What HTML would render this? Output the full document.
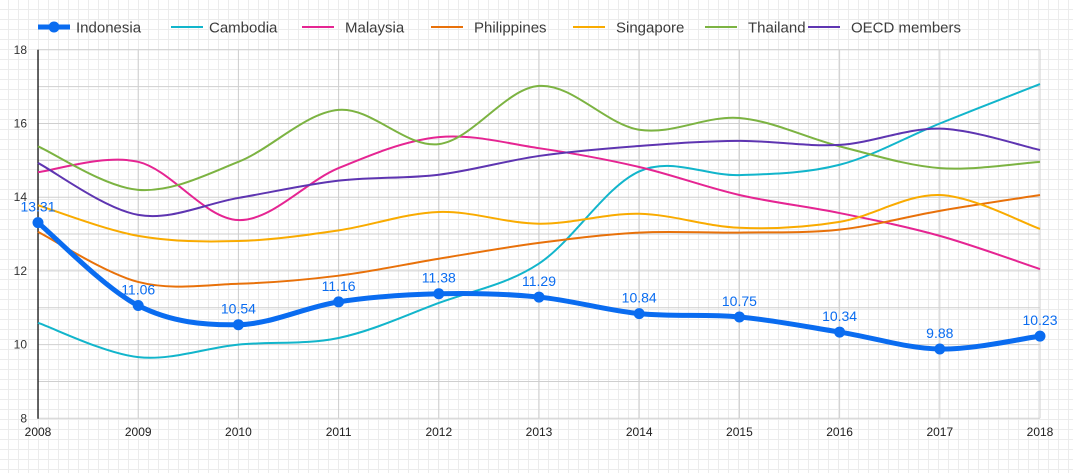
<!DOCTYPE html>
<html><head><meta charset="utf-8"><style>
html,body{margin:0;padding:0;}
body{width:1073px;height:473px;overflow:hidden;background-color:#fff;
background-image:linear-gradient(#ececec 1px,transparent 1px),linear-gradient(90deg,#ececec 1px,transparent 1px);
background-size:10px 10px;background-position:0 9px,8px 0;font-family:"Liberation Sans",sans-serif;}
svg{position:absolute;left:0;top:0}
</style></head><body>
<svg id="s" width="1073" height="473" xmlns="http://www.w3.org/2000/svg" font-family="Liberation Sans, sans-serif"></svg>
<script>
const s=document.getElementById('s');
const X=i=>38+i*100.2, Y=v=>418.3-(v-8)*36.85;
let h='';
for(let v=9;v<=18;v++)h+=`<line x1="38" x2="1040" y1="${Y(v)}" y2="${Y(v)}" stroke="#cfcfcf" stroke-width="1"/>`;
for(let i=1;i<=10;i++)h+=`<line x1="${X(i)}" x2="${X(i)}" y1="${Y(18)}" y2="418.3" stroke="#cfcfcf" stroke-width="1"/>`;
h+=`<line x1="38" x2="1040" y1="418.3" y2="418.3" stroke="#cfcfcf"/>`;
h+=`<line x1="38" x2="38" y1="${Y(18)}" y2="418.8" stroke="#000" stroke-width="1.2"/>`;
for(let v=8;v<=18;v+=2)h+=`<text x="27" y="${Y(v)+4}" font-size="12" fill="#333" text-anchor="end">${v}</text>`;
for(let i=0;i<=10;i++)h+=`<text x="${X(i)}" y="436" font-size="12" fill="#222" text-anchor="middle">${2008+i}</text>`;
const ser=[
["Cambodia","#12b5cb",[10.59,9.66,10.0,10.18,11.13,12.2,14.7,14.6,14.88,16.0,17.07]],
["Malaysia","#e52592",[14.68,14.96,13.38,14.79,15.63,15.33,14.82,14.06,13.57,12.95,12.05]],
["Philippines","#e8710a",[13.06,11.70,11.65,11.87,12.33,12.76,13.04,13.04,13.12,13.63,14.06]],
["Singapore","#f9ab00",[13.78,12.95,12.81,13.1,13.6,13.28,13.55,13.17,13.33,14.06,13.14]],
["Thailand","#7cb342",[15.38,14.2,14.96,16.37,15.44,17.02,15.83,16.15,15.38,14.79,14.96]],
["OECD members","#5e35b1",[14.93,13.52,13.98,14.45,14.61,15.12,15.39,15.53,15.42,15.86,15.28]]];
const ind=[13.31,11.06,10.54,11.16,11.38,11.29,10.84,10.75,10.34,9.88,10.23];
function path(d){const p=d.map((v,i)=>[X(i),Y(v)]);let r=`M${p[0][0]},${p[0][1]}`;
for(let i=0;i<p.length-1;i++){const a=p[Math.max(i-1,0)],b=p[i],c=p[i+1],e=p[Math.min(i+2,p.length-1)];
r+=` C${b[0]+(c[0]-a[0])/6},${b[1]+(c[1]-a[1])/6} ${c[0]-(e[0]-b[0])/6},${c[1]-(e[1]-b[1])/6} ${c[0]},${c[1]}`;}return r;}
for(const [n,c,d] of ser)h+=`<path d="${path(d)}" fill="none" stroke="${c}" stroke-width="2"/>`;
const B="#0a6cf0";
h+=`<path d="${path(ind)}" fill="none" stroke="${B}" stroke-width="5"/>`;
ind.forEach((v,i)=>{h+=`<circle cx="${X(i)}" cy="${Y(v)}" r="5.5" fill="${B}"/>`;
h+=`<text x="${X(i)}" y="${Y(v)-11}" font-size="14" fill="${B}" text-anchor="middle">${v}</text>`;});
const leg=[["Indonesia",B,38,76],["Cambodia","#12b5cb",171,209],["Malaysia","#e52592",302,345],["Philippines","#e8710a",431,474],["Singapore","#f9ab00",573,616],["Thailand","#7cb342",705,748],["OECD members","#5e35b1",808,851]];
leg.forEach(([n,c,x,t],k)=>{
if(k==0){h+=`<line x1="${x}" x2="${x+32}" y1="27" y2="27" stroke="${c}" stroke-width="5"/><circle cx="${x+16}" cy="27" r="5.5" fill="${c}"/>`;}
else h+=`<line x1="${x}" x2="${x+32}" y1="27" y2="27" stroke="${c}" stroke-width="2"/>`;
h+=`<text x="${t}" y="32.5" font-size="15" fill="#3c3c3c">${n}</text>`;});
s.innerHTML=h;
</script>
</body></html>
